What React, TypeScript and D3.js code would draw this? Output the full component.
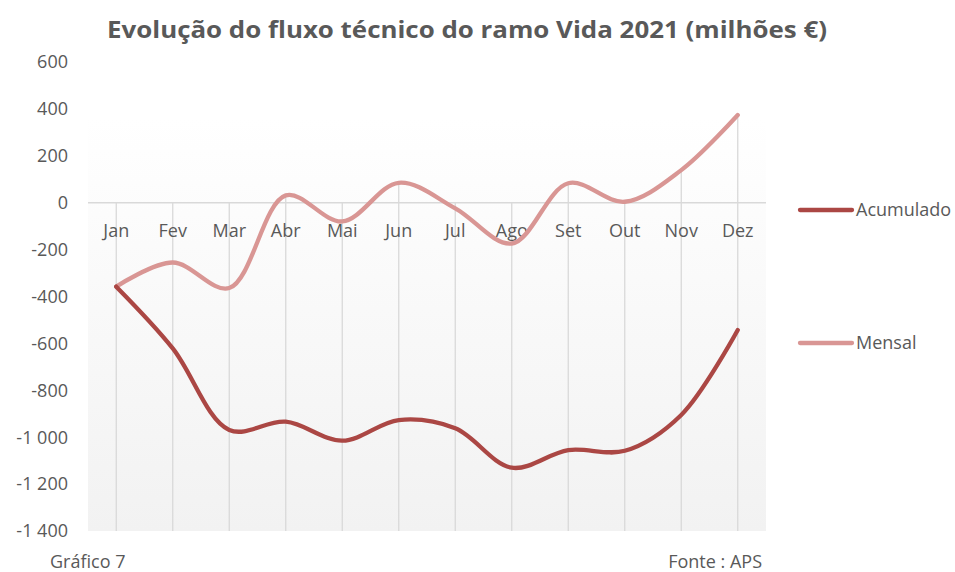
import React from "react";
import * as d3 from "d3";

const months = ["Jan", "Fev", "Mar", "Abr", "Mai", "Jun", "Jul", "Ago", "Set", "Out", "Nov", "Dez"];
const acumulado = [-358, -621, -969, -934, -1015, -927, -962, -1130, -1055, -1058, -905, -543];
const mensal = [-358, -255, -364, 31, -80, 85, -24, -174, 83, 4, 139, 374];
const yTicks = [600, 400, 200, 0, -200, -400, -600, -800, -1000, -1200, -1400];
const seriesNames = ["Acumulado", "Mensal"];
const seriesColors = ["#ab4744", "#d99694"];
const title = "Evolução do fluxo técnico do ramo Vida 2021 (milhões €)";

const W = 955, H = 572;
const plot = { left: 88, right: 766, top: 62, bottom: 531 };
const font = "'Open Sans', 'DejaVu Sans', sans-serif";
const textColor = "#595959";

function fmt(v: number) {
  const s = Math.abs(v).toString().replace(/\B(?=(\d{3})+(?!\d))/g, " ");
  return (v < 0 ? "-" : "") + s;
}

export default function App() {
  const x = d3.scaleBand<string>().domain(months).range([plot.left, plot.right]);
  const y = d3.scaleLinear().domain([-1400, 600]).range([plot.bottom, plot.top]);
  const cx = (m: string) => (x(m) as number) + x.bandwidth() / 2;
  const line = d3
    .line<number>()
    .x((_, i) => cx(months[i]))
    .y((d) => y(d))
    .curve(d3.curveCatmullRom.alpha(0.5));
  const series = [acumulado, mensal];
  const legendY = [210, 343];

  return (
    <svg width={W} height={H} style={{ position: "absolute", left: 0, top: 0, background: "#fff" }}>
      <defs>
        <linearGradient id="bg" x1="0" y1="0" x2="0" y2="1">
          <stop offset="0" stopColor="#ffffff" />
          <stop offset="0.12" stopColor="#ffffff" />
          <stop offset="1" stopColor="#f2f2f2" />
        </linearGradient>
      </defs>
      <text
        x={467}
        y={38}
        textAnchor="middle"
        fontFamily={font}
        fontWeight="bold"
        fontSize={23}
        fill={textColor}
        textLength={720}
        lengthAdjust="spacingAndGlyphs"
      >
        {title}
      </text>
      <rect x={plot.left} y={plot.top} width={plot.right - plot.left} height={plot.bottom - plot.top} fill="url(#bg)" />
      {months.map((m, i) => (
        <line
          key={m}
          x1={cx(m)}
          x2={cx(m)}
          y1={y(Math.max(0, mensal[i], acumulado[i]))}
          y2={plot.bottom}
          stroke="#d9d9d9"
          strokeWidth={1.3}
        />
      ))}
      <line x1={plot.left} x2={plot.right} y1={y(0)} y2={y(0)} stroke="#d9d9d9" strokeWidth={1.5} />
      {yTicks.map((t) => (
        <text key={t} x={68} y={y(t)} dy="0.35em" textAnchor="end" fontFamily={font} fontSize={18} fill={textColor}>
          {fmt(t)}
        </text>
      ))}
      {months.map((m) => (
        <text key={m} x={cx(m)} y={231} dy="0.35em" textAnchor="middle" fontFamily={font} fontSize={18} fill={textColor}>
          {m}
        </text>
      ))}
      {[1, 0].map((i) => (
        <path
          key={i}
          d={line(series[i]) || ""}
          fill="none"
          stroke={seriesColors[i]}
          strokeWidth={4.3}
          strokeLinecap="round"
          strokeLinejoin="round"
        />
      ))}
      {seriesNames.map((n, i) => (
        <g key={n}>
          <line x1={800} x2={852} y1={legendY[i]} y2={legendY[i]} stroke={seriesColors[i]} strokeWidth={4.3} strokeLinecap="round" />
          <text x={856} y={legendY[i]} dy="0.35em" fontFamily={font} fontSize={18} fill={textColor}>
            {n}
          </text>
        </g>
      ))}
      <text x={50} y={562} dy="0.35em" fontFamily={font} fontSize={18} fill={textColor}>
        Gráfico 7
      </text>
      <text x={762} y={562} dy="0.35em" textAnchor="end" fontFamily={font} fontSize={18} fill={textColor}>
        Fonte : APS
      </text>
    </svg>
  );
}
